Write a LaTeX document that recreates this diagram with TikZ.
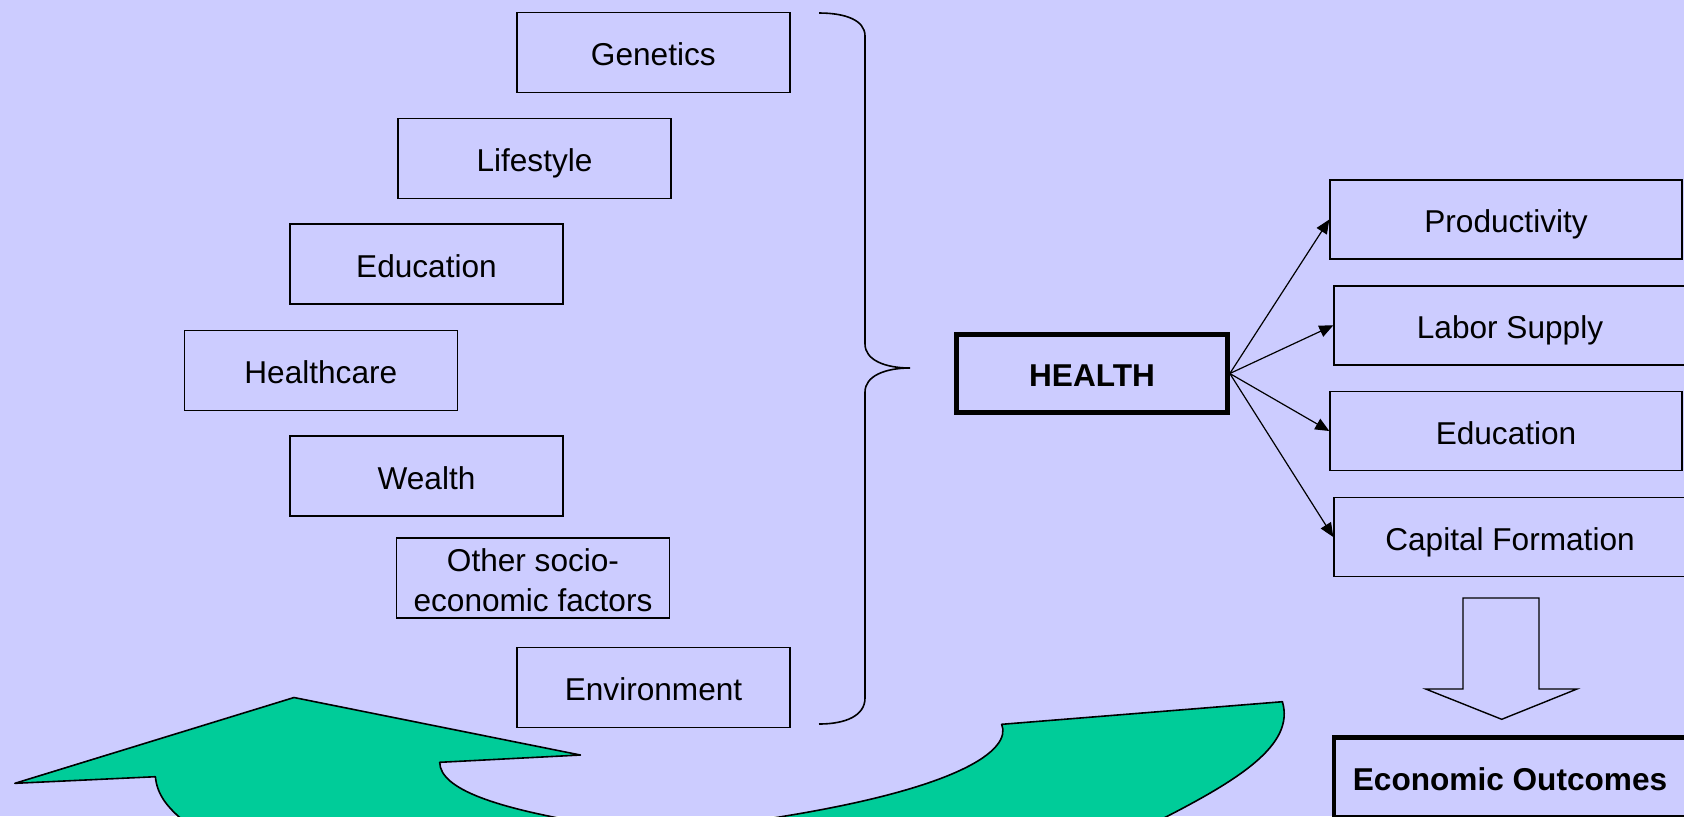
\documentclass[tikz,border=0pt]{standalone}
\usepackage{fontspec}
\setmainfont{Liberation Sans}
\usetikzlibrary{arrows.meta}
\definecolor{bg}{RGB}{204,204,255}
\definecolor{loopgreen}{RGB}{0,204,153}
\begin{document}
\begin{tikzpicture}[x=0.5pt,y=-0.5pt,
  txt/.style={font=\fontsize{15.8}{19.8}\selectfont},
  oneline/.style={text height=16.5pt,text depth=3.35pt},
  framed/.style={txt,draw=black,line width=0.7pt,fill=bg,inner sep=0pt,align=center,
    minimum width=136.5pt,minimum height=40pt},
  box/.style={framed,oneline},
  rbox/.style={box,minimum width=176pt,minimum height=39.5pt},
  keybox/.style={oneline,draw=black,line width=2.3pt,fill=bg,inner sep=0pt,align=center,
    font=\fontsize{15.8}{18.2}\selectfont\bfseries},
  link/.style={line width=0.6pt,-{Triangle[length=7pt,width=6pt]}},
  outline/.style={line width=0.7pt,draw=black}]
\path[use as bounding box] (0,0) rectangle (1684,816);
\clip (0,0) rectangle (1684,816);
\fill[bg] (0,0) rectangle (1684,816);

% determinants of health
\node[box] (gen)  at (653.3,52.7)  {Genetics};
\node[box] (life) at (534.5,158.5) {Lifestyle};
\node[box] (edl)  at (426.5,264)   {Education};
\node[box] (care) at (320.8,370.5) {Healthcare};
\node[box] (wlth) at (426.5,476)   {Wealth};
\node[framed] (soc) at (533,578)   {};
\node[txt,align=center,inner sep=0pt] (soctext) at (533,580.2) {Other socio-\\economic factors};
\node[box] (env)  at (653.5,687.5) {Environment};

% brace gathering the determinants
\coordinate (bracetip) at (910,368);
\draw[line width=0.8pt] (819,13) .. controls (845,13) and (865,20) .. (865,36)
  -- (865,344) .. controls (865,360) and (885,368) .. (bracetip)
  .. controls (885,368) and (865,376) .. (865,392)
  -- (865,698) .. controls (865,716) and (845,724) .. (819,724);

% health and its consequences
\node[keybox,minimum width=135.5pt,minimum height=39pt] (health) at (1092,373.5) {HEALTH};

\node[rbox] (prod) at (1506,219.5) {Productivity};
\node[rbox] (lab)  at (1510,325.3) {Labor Supply};
\node[rbox] (edr)  at (1506,431)   {Education};
\node[rbox] (cap)  at (1510,537)   {Capital Formation};

\draw[link] (health.east) -- (prod.west);
\draw[link] (health.east) -- (lab.west);
\draw[link] (health.east) -- (edr.west);
\draw[link] (health.east) -- (cap.west);

% block arrow down to the outcomes
\draw[outline,fill=bg,line join=miter] (1463,598) -- (1539,598) -- (1539,689) -- (1577,689)
  -- (1501.7,719.3) -- (1425.7,689) -- (1463,689) -- cycle;

\node[keybox,minimum width=176pt,minimum height=40pt] (econ) at (1510,777.7) {Economic Outcomes};

% feedback loop arrow
\draw[line width=0.8pt,fill=loopgreen,line join=round]
  (14.9,783.3) -- (294,697.5) -- (580.4,755) -- (439.7,762.3)
  .. controls (440,790) and (500,808) .. (580,822) -- (760,820)
  .. controls (960,790) and (1012,750) .. (1001.7,724.3)
  -- (1282.4,701.7)
  .. controls (1295,745) and (1240,780) .. (1150,825) -- (185,822)
  .. controls (168,808) and (157,795) .. (155.4,776.7) -- cycle;
\end{tikzpicture}
\end{document}
